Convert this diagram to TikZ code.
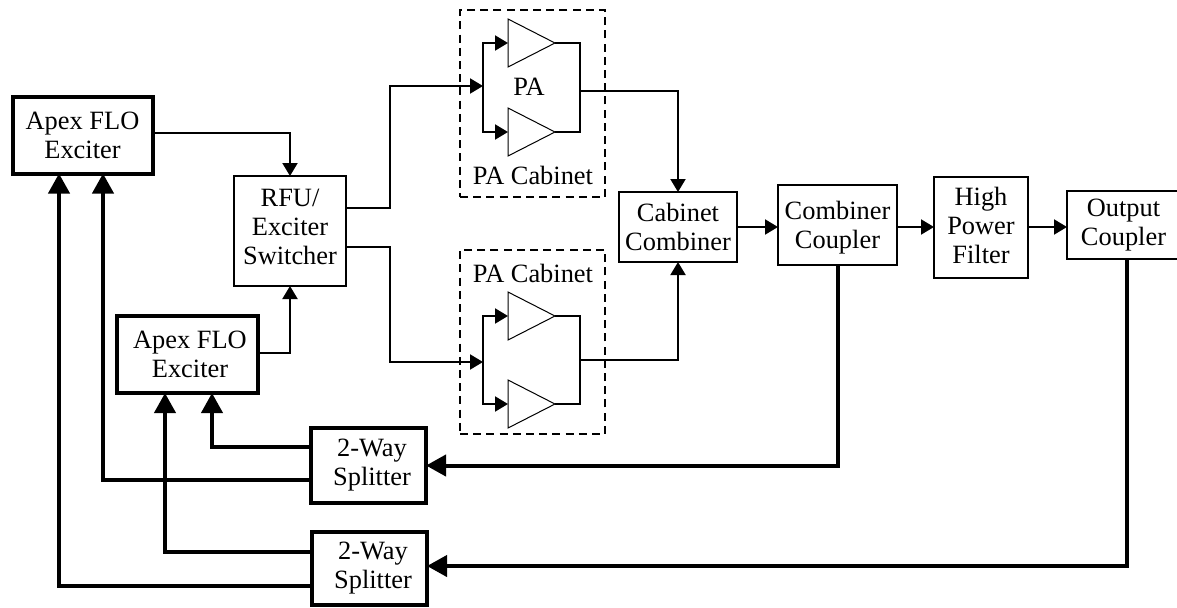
\documentclass[tikz,border=0pt]{standalone}
\usepackage{fontspec}
\setmainfont{Liberation Serif}
\usetikzlibrary{arrows.meta,shapes.geometric}
\begin{document}
\begin{tikzpicture}[x=0.5pt, y=-0.5pt,
  font=\fontsize{13.2}{14.5}\selectfont,
  block/.style={draw=black, line width=1pt, align=center, inner sep=0pt, outer sep=0pt, fill=white},
  heavyblock/.style={block, line width=2pt},
  cabinet/.style={draw=black, line width=1pt, dash pattern=on 4pt off 2.6pt, minimum width=72.5pt, inner sep=0pt},
  amp/.style={draw=black, line width=0.5pt, isosceles triangle, isosceles triangle stretches, shape border rotate=0,
              minimum width=24pt, minimum height=23.5pt, inner sep=0pt, outer sep=0pt},
  link/.style={draw=black, line width=1pt, -{Triangle[length=6.5pt,width=7.5pt]}},
  wire/.style={draw=black, line width=1pt},
  heavylink/.style={draw=black, line width=2pt, -{Triangle[length=10pt,width=10.5pt]}}]
\clip (0,0) rectangle (1177,607);
% ---------------- dashed cabinets
\node[cabinet, minimum height=93.5pt] (cabA) at (532.5,103.5) {};
\node[cabinet, minimum height=92pt] (cabB) at (532.5,342) {};
\node (cabAlab) at (533,175) {PA Cabinet};
\node (cabBlab) at (533,273) {PA Cabinet};
\node (palab) at (529,87) {PA};
% ---------------- amplifiers
\foreach \n/\y in {ampA/43, ampB/132, ampC/316, ampD/404} {
  \node[amp, anchor=west] (\n) at (508,\y) {};
}
% ---------------- blocks
\node[heavyblock, minimum width=70pt, minimum height=38.5pt] (exTop) at (82.5,135) {Apex FLO\\ Exciter};
\node[heavyblock, minimum width=70.5pt, minimum height=38.5pt] (exLow) at (187.5,354.5) {\hspace*{2.5pt}Apex FLO\\ \hspace*{2.5pt}Exciter};
\node[block, minimum width=56pt, minimum height=55pt, text depth=4pt] (rfu) at (290,231) {RFU/\\ Exciter\\ Switcher};
\node[block, minimum width=59pt, minimum height=35pt] (cabcomb) at (678,227) {Cabinet\\ Combiner};
\node[block, minimum width=59.5pt, minimum height=40pt, text depth=0pt] (combcoup) at (837.5,225) {Combiner\\ Coupler};
\node[block, minimum width=47pt, minimum height=50.5pt, text depth=2.5pt] (hpf) at (981,227.5) {High\\ Power\\ Filter};
\node[block, minimum width=56.5pt, minimum height=34pt] (outcoup) at (1123.5,225) {Output\\ Coupler};
\node[heavyblock, minimum width=57.5pt, minimum height=37.5pt] (splitA) at (368.5,465.5) {\hspace*{3.5pt}2-Way\\ \hspace*{3.5pt}Splitter};
\node[heavyblock, minimum width=57.5pt, minimum height=36.5pt] (splitB) at (369.5,568.5) {\hspace*{3.5pt}2-Way\\ \hspace*{3.5pt}Splitter};
% ---------------- junctions
\coordinate (busA) at (483,86);
\coordinate (busB) at (483,362);
\coordinate (sumA) at (580,91);
\coordinate (sumB) at (580,360);
% ---------------- PA inputs and outputs
\draw[link] (rfu.east |- 0,208) -- (390,208) |- (busA);
\draw[link] (rfu.east |- 0,247) -- (390,247) |- (busB);
\foreach \b/\t/\u in {busA/ampA/ampB, busB/ampC/ampD} {
  \draw[link] (\b) |- (\t.west);
  \draw[link] (\b) |- (\u.west);
}
\foreach \s/\t/\u in {sumA/ampA/ampB, sumB/ampC/ampD} {
  \draw[wire] (\t.east) -| (\s);
  \draw[wire] (\u.east) -| (\s);
}
\draw[link] (sumA) -| (cabcomb.north);
\draw[link] (sumB) -| (cabcomb.south);
% ---------------- main chain
\draw[link] (exTop.east |- 0,133) -| (rfu.north);
\draw[link] (exLow.east |- 0,353) -| (rfu.south);
\draw[link] (cabcomb.east) -- (combcoup.west |- cabcomb.east);
\draw[link] (combcoup.east |- cabcomb.east) -- (hpf.west |- cabcomb.east);
\draw[link] (hpf.east |- cabcomb.east) -- (outcoup.west |- cabcomb.east);
% ---------------- feedback
\draw[heavylink] (combcoup.south) |- (splitA.east);
\draw[heavylink] (outcoup.south -| 1127,0) |- (splitB.east |- 0,566);
\draw[heavylink] (splitA.west |- 0,447) -| (exLow.south -| 212,0);
\draw[heavylink] (splitA.west |- 0,480) -| (exTop.south -| 103,0);
\draw[heavylink] (splitB.west |- 0,552) -| (exLow.south -| 165,0);
\draw[heavylink] (splitB.west |- 0,586) -| (exTop.south -| 59,0);
\end{tikzpicture}
\end{document}
